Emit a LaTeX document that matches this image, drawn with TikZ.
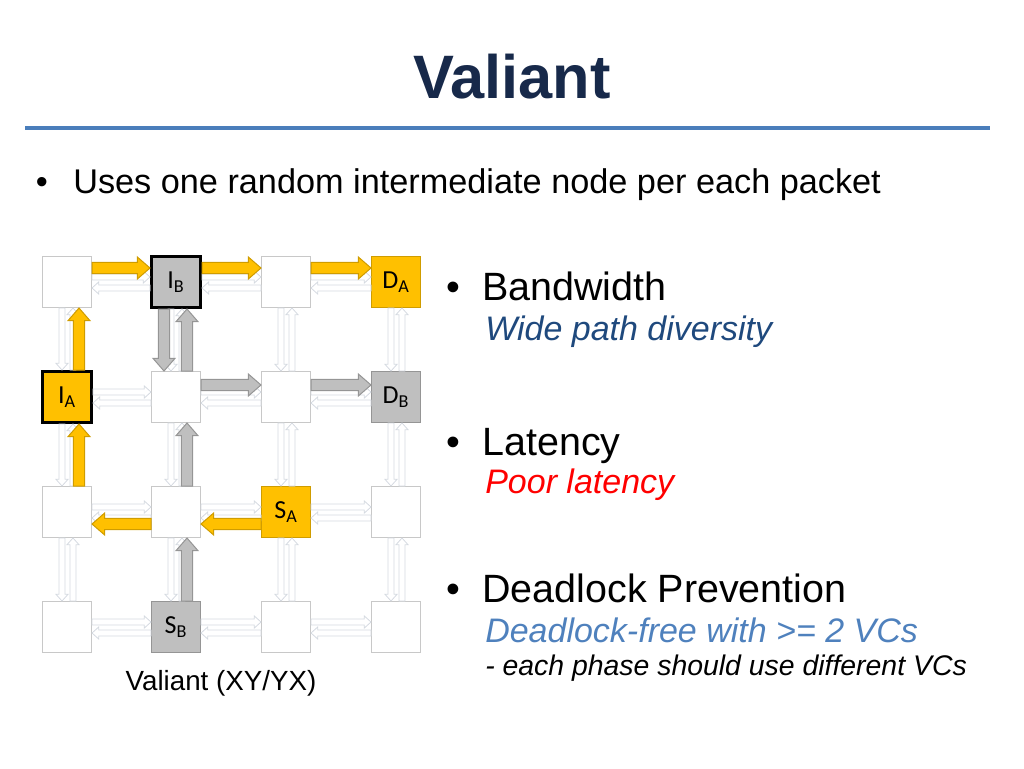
\documentclass[tikz,border=0pt]{standalone}
\usepackage{fontspec}
\setmainfont{Liberation Sans}
\newfontfamily\routerfont{Carlito}
\usetikzlibrary{calc}
\definecolor{valNavy}{HTML}{17294A}
\definecolor{valRule}{HTML}{4A7EBB}
\definecolor{valYellow}{HTML}{FFC000}
\definecolor{valYellowEdge}{HTML}{CF9C00}
\definecolor{valGrey}{HTML}{BFBFBF}
\definecolor{valGreyEdge}{HTML}{959595}
\definecolor{valRouterEdge}{HTML}{C8C8C8}
\definecolor{valLinkEdge}{HTML}{D5DAE1}
\definecolor{valDarkBlue}{HTML}{1F497D}
\definecolor{valMidBlue}{HTML}{4F81BD}
\definecolor{valRed}{HTML}{FF0000}
\tikzset{
  val/router/.style={draw=valRouterEdge, fill=white, line width=0.75pt,
    minimum width=36.75pt, minimum height=38.25pt, inner sep=0pt,
    font=\routerfont\fontsize{19.5}{22}\selectfont},
  val/yellowbox/.style={val/router, fill=valYellow, draw=valYellowEdge},
  val/greybox/.style={val/router, fill=valGrey, draw=valGreyEdge},
  val/inter/.style={line width=2.25pt, draw=black},
  val/pathA/.style={fill=valYellow, draw=valYellowEdge, line width=0.75pt},
  val/pathB/.style={fill=valGrey, draw=valGreyEdge, line width=0.75pt},
  val/link/.style={fill=white, draw=valLinkEdge, line width=0.6pt},
  val/rule/.style={draw=valRule, line width=3pt},
  val/text/.style={anchor=base west, inner sep=0pt},
  val/title/.style={anchor=base, inner sep=0pt, text=valNavy,
    font=\fontsize{46}{55}\selectfont\bfseries},
  val/lead/.style={val/text, font=\fontsize{25.7}{30}\selectfont},
  val/point/.style={val/text, font=\fontsize{29.6}{35}\selectfont},
  val/detail/.style={val/text, font=\fontsize{25.5}{30}\selectfont\itshape},
  val/note/.style={val/text, font=\fontsize{21.3}{25}\selectfont\itshape},
  val/caption/.style={anchor=base, inner sep=0pt, font=\fontsize{20.8}{25}\selectfont},
}
% router label: letter with subscript, set a little low in the box
\newcommand{\rlabel}[2]{\raisebox{-2.5pt}{#1\textsubscript{#2}}}
% block arrow: style, half shaft, half head, head length, from, to
\newcommand{\barrow}[6]{%
  \path[#1] let \p1=(#5), \p2=(#6), \n1={atan2(\y2-\y1,\x2-\x1)},
    \n2={veclen(\x2-\x1,\y2-\y1)} in
    [shift={(\p1)}, rotate=\n1]
    (0pt,-#2) -- ({\n2-#4},-#2) -- ({\n2-#4},-#3) -- ({\n2*1pt},0pt)
    -- ({\n2-#4},#3) -- ({\n2-#4},#2) -- (0pt,#2) -- cycle;}
\newcommand{\flowarrow}[3]{\barrow{#1}{4.3pt}{8.25pt}{9.5pt}{#2}{#3}}
\newcommand{\linkarrow}[2]{\barrow{val/link}{2.25pt}{4.5pt}{5pt}{#1}{#2}}

\begin{document}
\begin{tikzpicture}[x=0.75pt, y=-0.75pt]
\useasboundingbox (0,0) rectangle (1024,768);

% ===== Title =====
\node[val/title] (title) at (512,98) {Valiant};
\draw[val/rule] (25,128) -- (990,128);

\node[val/lead] (dot0) at (35.5,193) {•};
\node[val/lead] (lead) at (73,193) {Uses one random intermediate node per each packet};

% ===== Mesh routers (r<column><row>) =====
\node[val/router] (r00) at (67,282) {};
\node[val/greybox, val/inter] (r10) at (176,282) {\rlabel{I}{B}};
\node[val/router] (r20) at (286,282) {};
\node[val/yellowbox] (r30) at (396,282) {\rlabel{D}{A}};

\node[val/yellowbox, val/inter] (r01) at (67,397) {\rlabel{I}{A}};
\node[val/router] (r11) at (176,397) {};
\node[val/router] (r21) at (286,397) {};
\node[val/greybox] (r31) at (396,397) {\rlabel{D}{B}};

\node[val/router] (r02) at (67,512) {};
\node[val/router] (r12) at (176,512) {};
\node[val/yellowbox] (r22) at (286,512) {\rlabel{S}{A}};
\node[val/router] (r32) at (396,512) {};

\node[val/router] (r03) at (67,627) {};
\node[val/greybox] (r13) at (176,627) {\rlabel{S}{B}};
\node[val/router] (r23) at (286,627) {};
\node[val/router] (r33) at (396,627) {};

% ===== Mesh links (both directions) =====
\foreach \col/\nxt in {0/1,1/2,2/3}
  \foreach \row in {0,...,3} {
    \linkarrow{$(r\col\row.east)+(0,-5)$}{$(r\nxt\row.west)+(0,-5)$}
    \linkarrow{$(r\nxt\row.west)+(0,6)$}{$(r\col\row.east)+(0,6)$}
  }
\foreach \row/\nxt in {0/1,1/2,2/3}
  \foreach \col in {0,...,3} {
    \linkarrow{$(r\col\row.south)+(-5,0)$}{$(r\col\nxt.north)+(-5,0)$}
    \linkarrow{$(r\col\nxt.north)+(6,0)$}{$(r\col\row.south)+(6,0)$}
  }

% ===== Packet A: S_A -> I_A -> D_A =====
\flowarrow{val/pathA}{$(r22.west)+(0,12)$}{$(r12.east)+(0,12)$}
\flowarrow{val/pathA}{$(r12.west)+(0,12)$}{$(r02.east)+(0,12)$}
\flowarrow{val/pathA}{$(r02.north)+(12,0)$}{$(r01.south)+(12,0)$}
\flowarrow{val/pathA}{$(r01.north)+(12,0)$}{$(r00.south)+(12,0)$}
\flowarrow{val/pathA}{$(r00.east)+(0,-14)$}{$(r10.west)+(0,-14)$}
\flowarrow{val/pathA}{$(r10.east)+(0,-14)$}{$(r20.west)+(0,-14)$}
\flowarrow{val/pathA}{$(r20.east)+(0,-14)$}{$(r30.west)+(0,-14)$}

% ===== Packet B: S_B -> I_B -> D_B =====
\flowarrow{val/pathB}{$(r13.north)+(11,0)$}{$(r12.south)+(11,0)$}
\flowarrow{val/pathB}{$(r12.north)+(11,0)$}{$(r11.south)+(11,0)$}
\flowarrow{val/pathB}{$(r11.north)+(11,0)$}{$(r10.south)+(11,0)$}
\flowarrow{val/pathB}{$(r10.south)+(-12,0)$}{$(r11.north)+(-12,0)$}
\flowarrow{val/pathB}{$(r11.east)+(0,-12)$}{$(r21.west)+(0,-12)$}
\flowarrow{val/pathB}{$(r21.east)+(0,-12)$}{$(r31.west)+(0,-12)$}

\node[val/caption] (cap) at (221,690) {Valiant (XY/YX)};

% ===== Right column: properties =====
\node[val/point] (dot1) at (446.5,300) {•};
\node[val/point] (bw) at (482,300) {Bandwidth};
\node[val/detail, text=valDarkBlue] (bwnote) at (485,340) {Wide path diversity};

\node[val/point] (dot2) at (446.5,455) {•};
\node[val/point] (lat) at (482,455) {Latency};
\node[val/detail, text=valRed] (latnote) at (485,493) {Poor latency};

\node[val/point] (dot3) at (446.5,602) {•};
\node[val/point] (dl) at (482,602) {Deadlock Prevention};
\node[val/detail, text=valMidBlue] (dlnote) at (485,642) {Deadlock-free with >= 2 VCs};
\node[val/note] (dlsub) at (485,675) {- each phase should use different VCs};

\end{tikzpicture}
\end{document}
